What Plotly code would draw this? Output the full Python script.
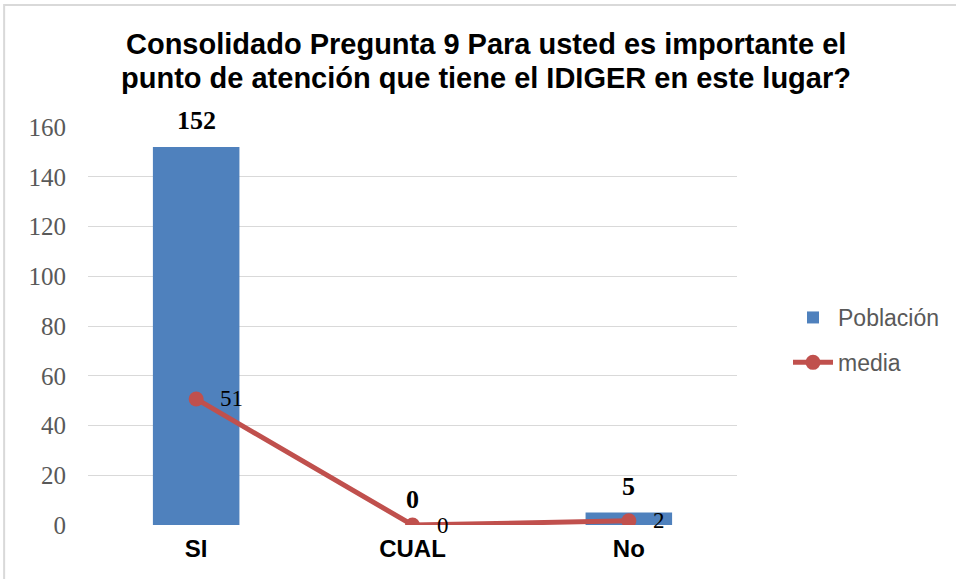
import plotly.graph_objects as go

categories = ["SI", "CUAL", "No"]
poblacion = [152, 0, 5]
media = [50.67, 0, 1.67]
y_ticks = [0, 20, 40, 60, 80, 100, 120, 140, 160]
title_lines = [
    "Consolidado Pregunta 9 Para usted es importante el",
    "punto de atención que tiene el IDIGER en este lugar?",
]

W, H = 956, 579
L, R, T, B = 88, 218, 127, 54
pw, ph = W - L - R, H - T - B

fig = go.Figure()
fig.add_trace(go.Bar(
    x=categories, y=poblacion, name="Población", legendgroup="a",
    marker=dict(color="#4F81BD", line=dict(width=0)),
))
fig.add_trace(go.Scatter(
    x=categories, y=media, name="media", mode="lines+markers", legendgroup="b",
    line=dict(color="#C0504D", width=5),
    marker=dict(color="#C0504D", size=15),
))


def px_x(x):
    return (x - L) / pw


def px_y(y):
    return (H - B - y) / ph


annotations = []
for c, v in zip(categories, poblacion):
    annotations.append(dict(
        x=c, y=v, xref="x", yref="y", text=f"<b>{v}</b>", showarrow=False,
        xanchor="center", yanchor="middle", yshift=26,
        font=dict(family="Liberation Serif", size=26, color="black"),
    ))
for c, v in zip(categories, media):
    annotations.append(dict(
        x=c, y=v, xref="x", yref="y", text=f"{v:.0f}", showarrow=False,
        xanchor="left", yanchor="middle", xshift=22,
        font=dict(family="Liberation Serif", size=23, color="black"),
    ))
for line, yc in zip(title_lines, [44, 78]):
    annotations.append(dict(
        x=px_x(487), y=px_y(yc), xref="paper", yref="paper", text=f"<b>{line}</b>",
        showarrow=False, xanchor="center", yanchor="middle",
        font=dict(family="Liberation Sans", size=29, color="black"),
    ))

fig.update_layout(
    width=W, height=H,
    margin=dict(l=L, r=R, t=T, b=B),
    paper_bgcolor="white", plot_bgcolor="white",
    bargap=0.6,
    yaxis=dict(
        range=[0, 160], tickvals=y_ticks, showgrid=True, gridcolor="#D9D9D9", gridwidth=1,
        zeroline=False, showline=False,
        tickfont=dict(family="Liberation Serif", size=25, color="#595959"),
        ticklabelstandoff=21,
    ),
    xaxis=dict(
        showgrid=False, showline=False, zeroline=False,
        tickfont=dict(family="Liberation Sans", size=24, color="black", weight="bold"),
        ticklabelstandoff=7,
    ),
    showlegend=True,
    legend=dict(
        x=px_x(788), y=px_y(340), xanchor="left", yanchor="middle",
        font=dict(family="Liberation Sans", size=23, color="#595959"),
        bgcolor="rgba(0,0,0,0)", itemwidth=40, tracegroupgap=12,
    ),
    annotations=annotations,
    shapes=[
        dict(type="rect", xref="paper", yref="paper", layer="below",
             x0=px_x(4), x1=px_x(1010), y0=px_y(5), y1=px_y(620),
             line=dict(color="#D9D9D9", width=2), fillcolor="rgba(0,0,0,0)"),
    ],
)

fig.write_html(
    "out.html",
    config={"displayModeBar": False},
    post_script="document.body.style.margin='0';document.body.style.overflow='hidden';",
)
